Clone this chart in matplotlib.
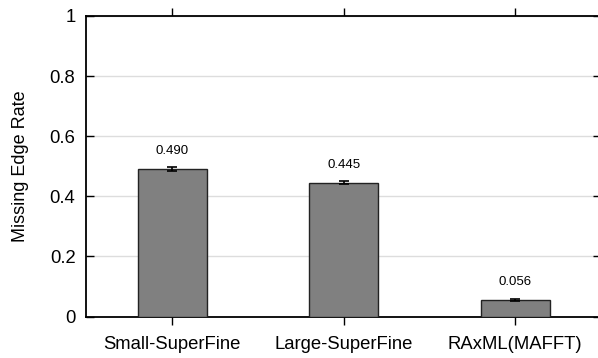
import matplotlib
matplotlib.use("Agg")
import matplotlib.pyplot as plt

plt.rcParams['font.family'] = ['Liberation Sans', 'DejaVu Sans']

methods = ["Small-SuperFine", "Large-SuperFine", "RAxML(MAFFT)"]
missing_rate = [0.490, 0.445, 0.056]
rate_err = [0.006, 0.005, 0.003]
y_ticks = [0, 0.2, 0.4, 0.6, 0.8, 1]
y_tick_labels = ["0", "0.2", "0.4", "0.6", "0.8", "1"]

fig = plt.figure(figsize=(5.98, 3.58), dpi=100)
ax = fig.add_axes([86.5 / 598, 1 - 316.5 / 358, (601 - 86.5) / 598, (316.5 - 16) / 358])

x = list(range(len(methods)))
ax.bar(x, missing_rate, width=0.4, color="#808080", edgecolor="#222222",
       linewidth=1.0, zorder=3)
ax.errorbar(x, missing_rate, yerr=rate_err, fmt="none", ecolor="black",
            elinewidth=1.2, capsize=3.5, capthick=1.2, zorder=4)
for xi, v in zip(x, missing_rate):
    ax.text(xi, v + 0.04, f"{v:.3f}", ha="center", va="bottom", fontsize=9.5)

ax.set_xlim(-0.5, 2.5)
ax.set_ylim(0, 1)
ax.set_xticks(x)
ax.set_xticklabels(methods, fontsize=13.3)
ax.set_yticks(y_ticks)
ax.set_yticklabels(y_tick_labels, fontsize=13.3)
ax.set_ylabel("Missing Edge Rate", fontsize=13, labelpad=15)

ax.yaxis.grid(True, color="#dddddd", linewidth=1.0, zorder=0)
ax.set_axisbelow(True)

ax.tick_params(axis="x", direction="out", length=6, top=True, width=1.0, pad=8)
ax.tick_params(axis="y", direction="in", length=6, right=True, width=1.0, pad=8)
for s in ax.spines.values():
    s.set_linewidth(1.3)

fig.savefig("out.png", dpi=100)
